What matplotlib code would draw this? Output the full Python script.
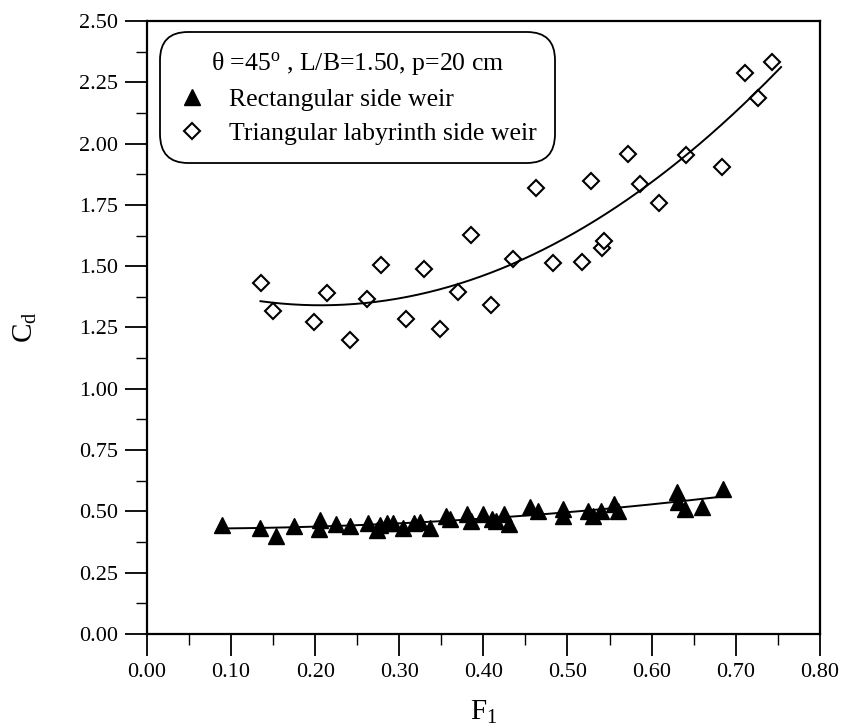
import matplotlib
matplotlib.use("Agg")
import matplotlib.pyplot as plt
from matplotlib.ticker import MultipleLocator, FormatStrFormatter
import numpy as np

plt.rcParams['font.family'] = ['Liberation Serif', 'DejaVu Serif']
plt.rcParams['mathtext.fontset'] = 'custom'
plt.rcParams['mathtext.rm'] = 'Liberation Serif'
plt.rcParams['mathtext.it'] = 'Liberation Serif:italic'

# rectangular side weir (filled triangles)
f1_rect = [0.089, 0.135, 0.153, 0.175, 0.206, 0.205, 0.225, 0.241, 0.263, 0.274,
           0.277, 0.285, 0.293, 0.305, 0.317, 0.325, 0.336, 0.355, 0.360, 0.380,
           0.385, 0.400, 0.410, 0.415, 0.425, 0.430, 0.455, 0.465, 0.495, 0.495,
           0.525, 0.530, 0.540, 0.555, 0.560, 0.630, 0.632, 0.640, 0.660, 0.685]
cd_rect = [0.445, 0.434, 0.400, 0.440, 0.465, 0.430, 0.447, 0.440, 0.451, 0.424,
           0.445, 0.454, 0.454, 0.434, 0.454, 0.458, 0.431, 0.480, 0.470, 0.490,
           0.460, 0.490, 0.470, 0.460, 0.490, 0.450, 0.520, 0.500, 0.510, 0.480,
           0.500, 0.480, 0.500, 0.530, 0.500, 0.580, 0.540, 0.510, 0.520, 0.590]

# triangular labyrinth side weir (open diamonds)
f1_lab = [0.136, 0.150, 0.199, 0.214, 0.241, 0.262, 0.278, 0.308, 0.330, 0.348,
          0.370, 0.385, 0.409, 0.435, 0.462, 0.483, 0.517, 0.528, 0.541, 0.543,
          0.572, 0.586, 0.609, 0.641, 0.684, 0.711, 0.727, 0.743]
cd_lab = [1.430, 1.319, 1.272, 1.392, 1.199, 1.365, 1.505, 1.283, 1.487, 1.243,
          1.396, 1.627, 1.342, 1.528, 1.820, 1.514, 1.518, 1.847, 1.576, 1.603,
          1.958, 1.834, 1.759, 1.953, 1.903, 2.287, 2.187, 2.334]

# x extent of the fitted curves
fit_span_rect = [0.089, 0.685]
fit_span_lab = [0.135, 0.754]

fig = plt.figure(figsize=(8.48, 7.28), dpi=100)
ax = fig.add_axes([0.1733, 0.1291, 0.7934, 0.8421])

ax.plot(f1_rect, cd_rect, linestyle='none', marker='^', markersize=11,
        color='black', label='Rectangular side weir')
ax.plot(f1_lab, cd_lab, linestyle='none', marker='D', markersize=8.3,
        markerfacecolor='white', markeredgecolor='black', markeredgewidth=1.5,
        label='Triangular labyrinth side weir')

# second order trend lines
for xs, ys, span in [(f1_rect, cd_rect, fit_span_rect), (f1_lab, cd_lab, fit_span_lab)]:
    coef = np.polyfit(xs, ys, 2)
    xx = np.linspace(span[0], span[1], 200)
    ax.plot(xx, np.polyval(coef, xx), color='black', linewidth=1.4)

ax.set_xlim(0, 0.8)
ax.set_ylim(0, 2.5)
ax.xaxis.set_major_locator(MultipleLocator(0.1))
ax.xaxis.set_minor_locator(MultipleLocator(0.05))
ax.yaxis.set_major_locator(MultipleLocator(0.25))
ax.yaxis.set_minor_locator(MultipleLocator(0.125))
ax.xaxis.set_major_formatter(FormatStrFormatter('%.2f'))
ax.yaxis.set_major_formatter(FormatStrFormatter('%.2f'))
ax.tick_params(which='major', direction='out', length=16, width=1.3, labelsize=16, pad=5)
ax.tick_params(which='minor', direction='out', length=8, width=1.0)
for s in ax.spines.values():
    s.set_linewidth(1.6)

ax.set_xlabel('F$_1$', fontsize=21)
ax.set_ylabel('C$_\\mathrm{d}$', fontsize=21)
ax.xaxis.set_label_coords(0.5, -0.105)
ax.yaxis.set_label_coords(-0.16, 0.5)

leg = ax.legend(loc='upper left', bbox_to_anchor=(0.019, 0.982), borderaxespad=0,
                title='\u03b8 =45$^{\\rm o}$ , L/B=1.50, p=20 cm', title_fontsize=18.5,
                fontsize=18.5, frameon=True, fancybox=True, edgecolor='black',
                framealpha=1, handlelength=1.1, handletextpad=0.9,
                labelspacing=0.42, borderpad=0.7)
leg.get_frame().set_linewidth(1.3)
leg.get_frame().set_boxstyle('round,pad=0,rounding_size=1.1')

fig.savefig('out.png', dpi=100)
